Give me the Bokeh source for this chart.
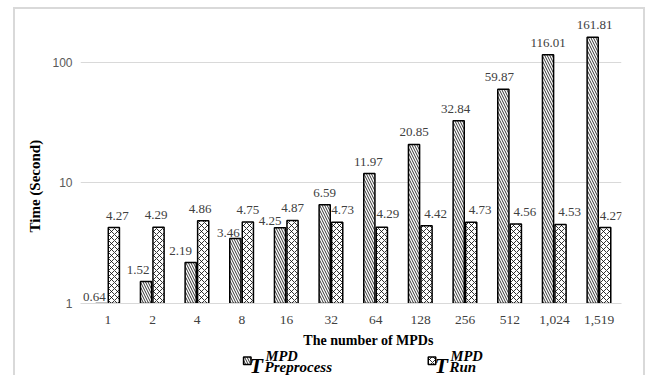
import numpy as np
from bokeh.plotting import figure
from bokeh.layouts import column
from bokeh.models import ColumnDataSource, FixedTicker, LabelSet, Title
from bokeh.core.properties import value
from bokeh.transform import dodge
from bokeh.embed import file_html
from bokeh.resources import INLINE

# ---- data ----
categories = ["1", "2", "4", "8", "16", "32", "64", "128", "256", "512", "1,024", "1,519"]
preprocess = [0.64, 1.52, 2.19, 3.46, 4.25, 6.59, 11.97, 20.85, 32.84, 59.87, 116.01, 161.81]
run = [4.27, 4.29, 4.86, 4.75, 4.87, 4.73, 4.29, 4.42, 4.73, 4.56, 4.53, 4.27]
y_ticks = [1, 10, 100]
y_tick_labels = ["1", "10", "100"]

# label nudges (screen px) to mimic the manually placed data labels
pre_dx = [-7, -8, -10, -7, -10, 0, -1, 0, -3, -4, 0, 2]
pre_up = [7, 12, 11, 6, 7, 12, 12, 12, 12, 12, 12, 12]
run_dx = [3.5, -2.5, -3, 0, 0, 5.5, 6, 9, 9, 9, 9, 6]
run_up = [12, 12, 12, 12, 13, 12, 13, 12, 12, 12, 12, 12]

xs = list(range(len(categories)))
src = ColumnDataSource(dict(
    x=xs, pre=preprocess, run=run,
    pre_lab=[f"{v:.2f}" for v in preprocess],
    run_lab=[f"{v:.2f}" for v in run],
    pre_anchor=list(np.maximum(preprocess, 1.0)),
    pre_dx=pre_dx, pre_up=pre_up, run_dx=run_dx, run_up=run_up,
))

SERIF = "Liberation Serif"
LABEL_COLOR = "#404040"
BORDER = "#d9d9d9"
PRE_STYLE = dict(fill_color="white", line_color="black", line_width=1.5,
                 hatch_pattern="\\", hatch_scale=5, hatch_color="black", hatch_weight=0.8)
RUN_STYLE = dict(fill_color="white", line_color="black", line_width=1.5,
                 hatch_pattern="x", hatch_scale=6, hatch_color="black", hatch_weight=0.8)

W = 648
PH = 332                   # chart height (px)
FL, FR = 80, 621           # frame left / right (px)
CAT_W = (FR - 85) / len(categories)      # px per category (gridlines of the original start at 85)
p = figure(width=W, height=PH, y_axis_type="log",
           x_range=(-0.5 - (85 - FL) / CAT_W, len(categories) - 0.5), y_range=(1, 245),
           output_backend="svg", toolbar_location=None,
           min_border_left=FL, min_border_right=W - FR, min_border_top=15, min_border_bottom=29)
p.outline_line_color = None
p.background_fill_color = "white"
p.border_fill_color = None

p.vbar(x=dodge("x", -0.145, range=p.x_range), top="pre", bottom=1, width=0.25, source=src, **PRE_STYLE)
p.vbar(x=dodge("x", 0.135, range=p.x_range), top="run", bottom=1, width=0.25, source=src, **RUN_STYLE)

# axes
p.xaxis.ticker = FixedTicker(ticks=xs)
p.xaxis.major_label_overrides = {i: c for i, c in enumerate(categories)}
p.xaxis.major_label_text_font = SERIF
p.xaxis.major_label_text_font_size = "13.5px"
p.xaxis.major_label_text_color = LABEL_COLOR
p.xaxis.major_label_standoff = 12
p.xaxis.axis_line_color = BORDER
p.xaxis.major_tick_line_color = None
p.xaxis.minor_tick_line_color = None
p.xaxis.major_tick_out = 0
p.xaxis.major_tick_in = 0

p.yaxis.ticker = FixedTicker(ticks=y_ticks, minor_ticks=[])
p.yaxis.major_label_overrides = {t: l for t, l in zip(y_ticks, y_tick_labels)}
p.yaxis.major_label_text_font = "Liberation Sans"
p.yaxis.major_label_text_font_size = "12px"
p.yaxis.major_label_text_color = "#595959"
p.yaxis.major_label_standoff = 8
p.yaxis.axis_line_color = None
p.yaxis.major_tick_line_color = None
p.yaxis.minor_tick_line_color = None
p.yaxis.major_tick_out = 0
p.yaxis.major_tick_in = 0

p.xgrid.grid_line_color = None
p.ygrid.ticker = FixedTicker(ticks=y_ticks, minor_ticks=[])
p.ygrid.grid_line_color = BORDER
p.ygrid.grid_line_width = 1

# y axis title
p.add_layout(Title(text="Time (Second)", align="left", offset=71, standoff=14,
                   text_font=SERIF, text_font_style="bold", text_font_size="15px",
                   text_color="black"), "left")

# data labels
p.add_layout(LabelSet(x=dodge("x", -0.145, range=p.x_range), y="pre_anchor", text="pre_lab",
                      source=src, x_offset="pre_dx", y_offset="pre_up",
                      text_align="center", text_baseline="middle",
                      text_font=SERIF, text_font_size="13px", text_color=LABEL_COLOR))
p.add_layout(LabelSet(x=dodge("x", 0.135, range=p.x_range), y="run", text="run_lab",
                      source=src, x_offset="run_dx", y_offset="run_up",
                      text_align="center", text_baseline="middle",
                      text_font=SERIF, text_font_size="13px", text_color=LABEL_COLOR))

# ---- strip below: x-axis title and legend (its frame lines up with the chart frame) ----
QH = 375 - PH
q = figure(width=W, height=QH, x_range=(FL, FR), y_range=(0, QH),
           x_axis_location=None, y_axis_location=None,
           output_backend="svg", toolbar_location=None, min_border=0)
q.grid.grid_line_color = None
q.outline_line_color = None
q.background_fill_color = None
q.border_fill_color = None

q.text(x=[368], y=[375 - 339.5], text=["The number of MPDs"], text_align="center",
       text_baseline="middle", text_font=value(SERIF), text_font_style="bold",
       text_font_size="14px", text_color="black")

q.rect(x=[246.8], y=[14.8], width=7.5, height=7.5, **PRE_STYLE)
q.rect(x=[431.5], y=[14.8], width=7.5, height=7.5, **RUN_STYLE)

def math_label(x0, main, sup, sub):
    q.text(x=[x0], y=[10.5], text=[main], text_baseline="alphabetic", text_font=value(SERIF),
           text_font_style="bold italic", text_font_size="22px", text_color="black")
    q.text(x=[x0 + 16], y=[20], text=[sup], text_baseline="alphabetic", text_font=value(SERIF),
           text_font_style="bold italic", text_font_size="14.5px", text_color="black")
    q.text(x=[x0 + 15], y=[8.5], text=[sub], text_baseline="alphabetic", text_font=value(SERIF),
           text_font_style="bold italic", text_font_size="15px", text_color="black")

math_label(249, "T", "MPD", "Preprocess")
math_label(434, "T", "MPD", "Run")

# light-grey outer chart border (left, top, right edges)
layout = column(p, q, spacing=0,
                styles={"box-shadow": (
                    "inset 13px 0 0 0 white, inset 0 7px 0 0 white, inset -3px 0 0 0 white, "
                    f"inset 15px 0 0 0 {BORDER}, inset 0 9px 0 0 {BORDER}, inset -5px 0 0 0 {BORDER}")})

open("out.html", "w").write(file_html(layout, INLINE))
